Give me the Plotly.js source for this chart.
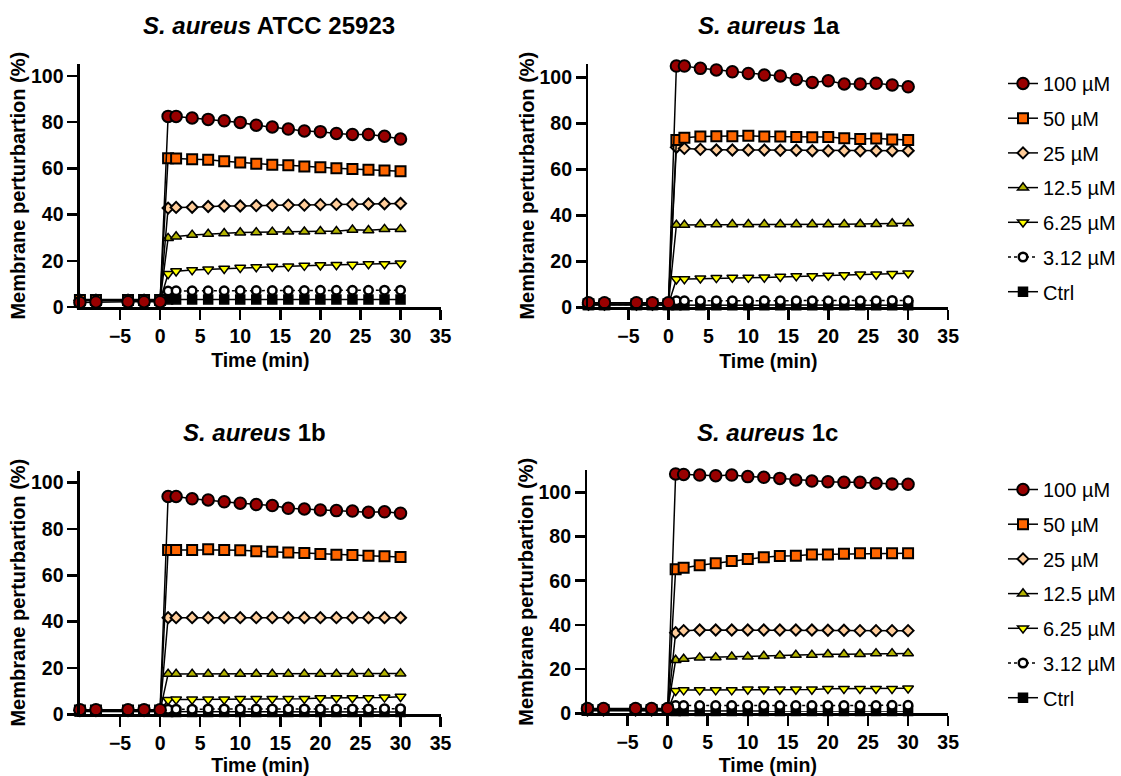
<!DOCTYPE html>
<html>
<head>
<meta charset="utf-8">
<script src="https://cdn.plot.ly/plotly-3.0.1.min.js"></script>
<style>html,body{margin:0;padding:0;background:#fff;}#chart{width:1121px;height:776px;}</style>
</head>
<body>
<div id="chart"></div>
<script>
// Time points (min)
const timeMin = [-10, -8, -4, -2, 0, 1, 2, 4, 6, 8, 10, 12, 14, 16, 18, 20, 22, 24, 26, 28, 30];
const xTickVals = [-5, 0, 5, 10, 15, 20, 25, 30, 35];
const yTickVals = [0, 20, 40, 60, 80, 100];

const seriesNames = ["100 \u00b5M", "50 \u00b5M", "25 \u00b5M", "12.5 \u00b5M", "6.25 \u00b5M", "3.12 \u00b5M", "Ctrl"];
const panelTitles = [
  "<b><i>S. aureus</i> ATCC 25923</b>",
  "<b><i>S. aureus</i> 1a</b>",
  "<b><i>S. aureus</i> 1b</b>",
  "<b><i>S. aureus</i> 1c</b>"
];

// Panel A: S. aureus ATCC 25923
const atcc_100 = [2.0, 2.2, 2.3, 2.3, 2.3, 82.5, 82.5, 81.8, 81.2, 80.6, 79.9, 78.7, 77.9, 77.0, 76.2, 75.9, 75.1, 74.7, 74.7, 73.9, 72.7];
const atcc_50  = [3.0, 3.0, 3.0, 3.0, 3.0, 64.4, 64.3, 64.0, 63.7, 63.1, 62.5, 62.0, 61.6, 61.3, 60.8, 60.5, 60.1, 59.7, 59.4, 59.1, 58.8];
const atcc_25  = [2.9, 2.9, 2.9, 2.9, 2.9, 42.8, 43.1, 43.2, 43.5, 43.7, 43.7, 43.9, 44.0, 44.1, 44.1, 44.3, 44.4, 44.4, 44.6, 44.7, 44.8];
const atcc_12  = [2.8, 2.8, 2.8, 2.8, 2.8, 29.8, 30.5, 31.2, 31.6, 31.9, 32.2, 32.3, 32.5, 32.6, 32.6, 32.8, 32.8, 33.4, 33.2, 33.7, 33.7];
const atcc_6   = [2.8, 2.8, 2.8, 2.8, 2.8, 14.3, 15.5, 16.0, 16.3, 16.6, 17.0, 17.3, 17.5, 17.6, 17.9, 18.1, 18.2, 18.3, 18.6, 18.6, 18.9];
const atcc_3   = [3.0, 3.0, 3.0, 3.0, 3.0, 6.9, 7.0, 7.0, 7.0, 7.0, 7.1, 7.1, 7.1, 7.1, 7.1, 7.2, 7.2, 7.2, 7.2, 7.3, 7.3];
const atcc_ctl = [3.2, 3.2, 3.2, 3.2, 3.2, 3.3, 3.3, 3.3, 3.3, 3.3, 3.3, 3.3, 3.3, 3.3, 3.3, 3.3, 3.3, 3.3, 3.3, 3.3, 3.3];

// Panel B: S. aureus 1a
const s1a_100 = [2.0, 2.0, 2.0, 2.0, 2.0, 104.9, 104.9, 103.9, 103.2, 102.4, 101.7, 101.0, 100.6, 99.1, 97.8, 98.5, 97.1, 97.1, 97.4, 96.7, 95.9];
const s1a_50  = [1.3, 1.3, 1.3, 1.3, 1.3, 72.7, 73.7, 74.3, 74.4, 74.4, 74.6, 74.3, 74.3, 74.1, 74.0, 74.1, 73.5, 73.2, 73.4, 73.0, 72.7];
const s1a_25  = [1.3, 1.3, 1.3, 1.3, 1.3, 69.6, 69.1, 68.7, 68.4, 68.4, 68.4, 68.4, 68.3, 68.3, 68.1, 68.1, 68.1, 68.1, 68.1, 68.1, 68.1];
const s1a_12  = [1.3, 1.3, 1.3, 1.3, 1.3, 35.8, 35.8, 36.1, 36.1, 36.1, 36.1, 36.1, 36.1, 36.1, 36.1, 36.1, 36.1, 36.2, 36.2, 36.4, 36.5];
const s1a_6   = [1.2, 1.2, 1.2, 1.2, 1.2, 12.2, 12.3, 12.6, 12.8, 12.9, 12.9, 13.0, 13.3, 13.6, 13.6, 13.8, 14.0, 14.3, 14.3, 14.5, 14.8];
const s1a_3   = [1.2, 1.2, 1.2, 1.2, 1.2, 2.8, 2.8, 2.9, 2.9, 2.9, 2.9, 2.9, 2.9, 2.9, 2.9, 2.9, 2.9, 2.9, 2.9, 3.0, 3.0];
const s1a_ctl = [1.0, 1.0, 1.0, 1.0, 1.0, 0.9, 0.9, 0.9, 0.9, 0.9, 0.9, 0.9, 0.9, 0.9, 0.9, 0.9, 0.9, 0.9, 0.9, 0.9, 0.9];

// Panel C: S. aureus 1b
const s1b_100 = [2.0, 2.0, 2.0, 2.0, 2.0, 94.0, 94.0, 93.0, 92.5, 91.7, 91.1, 90.5, 90.1, 88.9, 88.6, 88.2, 87.9, 87.7, 87.2, 87.4, 86.8];
const s1b_50  = [1.6, 1.6, 1.6, 1.6, 1.6, 70.9, 70.9, 70.9, 71.2, 70.9, 70.8, 70.4, 70.2, 69.8, 69.6, 69.2, 68.9, 68.7, 68.4, 68.2, 67.9];
const s1b_25  = [1.6, 1.6, 1.6, 1.6, 1.6, 41.7, 41.7, 41.7, 41.7, 41.7, 41.7, 41.7, 41.7, 41.7, 41.7, 41.7, 41.7, 41.7, 41.7, 41.7, 41.7];
const s1b_12  = [1.5, 1.5, 1.5, 1.5, 1.5, 17.4, 17.4, 17.4, 17.4, 17.4, 17.4, 17.4, 17.4, 17.4, 17.4, 17.4, 17.4, 17.5, 17.5, 17.5, 17.6];
const s1b_6   = [1.5, 1.5, 1.5, 1.5, 1.5, 6.2, 6.4, 6.4, 6.4, 6.4, 6.7, 6.7, 6.7, 6.7, 6.7, 7.0, 7.0, 7.0, 7.0, 7.3, 7.6];
const s1b_3   = [1.4, 1.4, 1.4, 1.4, 1.4, 2.2, 2.2, 2.2, 2.3, 2.3, 2.3, 2.3, 2.3, 2.3, 2.3, 2.3, 2.3, 2.3, 2.3, 2.4, 2.4];
const s1b_ctl = [1.2, 1.2, 1.2, 1.2, 1.2, 1.0, 1.0, 1.0, 1.0, 1.0, 1.0, 1.0, 1.0, 1.0, 1.0, 1.0, 1.0, 1.0, 1.0, 1.0, 1.0];

// Panel D: S. aureus 1c
const s1c_100 = [2.2, 2.2, 2.2, 2.2, 2.2, 108.3, 108.1, 107.8, 107.5, 107.8, 107.1, 106.8, 106.3, 105.6, 105.1, 104.8, 104.5, 104.5, 104.1, 103.8, 103.6];
const s1c_50  = [1.5, 1.5, 1.5, 1.5, 1.5, 65.2, 65.9, 67.0, 67.9, 68.9, 69.8, 70.6, 71.2, 71.3, 71.8, 71.9, 72.2, 72.4, 72.4, 72.4, 72.4];
const s1c_25  = [1.5, 1.5, 1.5, 1.5, 1.5, 36.5, 37.4, 37.7, 37.7, 37.7, 37.7, 37.7, 37.7, 37.7, 37.7, 37.6, 37.6, 37.4, 37.4, 37.4, 37.4];
const s1c_12  = [1.5, 1.5, 1.5, 1.5, 1.5, 24.1, 24.6, 25.2, 25.3, 25.6, 25.6, 25.9, 26.1, 26.4, 26.4, 26.7, 26.7, 26.8, 27.1, 27.1, 27.1];
const s1c_6   = [1.4, 1.4, 1.4, 1.4, 1.4, 10.2, 10.5, 10.5, 10.5, 10.5, 10.8, 10.8, 10.8, 10.8, 10.8, 11.1, 11.1, 11.1, 11.1, 11.1, 11.3];
const s1c_3   = [1.4, 1.4, 1.4, 1.4, 1.4, 3.5, 3.5, 3.5, 3.5, 3.5, 3.5, 3.5, 3.5, 3.5, 3.5, 3.5, 3.5, 3.5, 3.5, 3.6, 3.6];
const s1c_ctl = [1.2, 1.2, 1.2, 1.2, 1.2, 1.0, 1.0, 1.0, 1.0, 1.0, 1.0, 1.0, 1.0, 1.0, 1.0, 1.0, 1.0, 1.0, 1.0, 1.0, 1.0];

const panels = [
  [atcc_100, atcc_50, atcc_25, atcc_12, atcc_6, atcc_3, atcc_ctl],
  [s1a_100, s1a_50, s1a_25, s1a_12, s1a_6, s1a_3, s1a_ctl],
  [s1b_100, s1b_50, s1b_25, s1b_12, s1b_6, s1b_3, s1b_ctl],
  [s1c_100, s1c_50, s1c_25, s1c_12, s1c_6, s1c_3, s1c_ctl]
];

const FONT = "Liberation Sans, Arial, Helvetica, sans-serif";
const styles = [
  {symbol: "circle", size: 11.5, color: "#990000", lw: 2, dash: "solid"},
  {symbol: "square", size: 10, color: "#FF6600", lw: 2, dash: "solid"},
  {symbol: "diamond", size: 8.5, color: "#FFCC99", lw: 2, dash: "solid"},
  {symbol: "triangle-up", size: 9.5, color: "#B3B300", lw: 1.5, dash: "solid"},
  {symbol: "triangle-down", size: 9.5, color: "#FFFF00", lw: 1.5, dash: "solid"},
  {symbol: "circle", size: 8.5, color: "#FFFFFF", lw: 2.5, dash: "dot"},
  {symbol: "square", size: 9, color: "#000000", lw: 1.5, dash: "solid"}
];

const traces = [];
for (let p = 0; p < 4; p++) {
  const ax = p === 0 ? "" : String(p + 1);
  // draw Ctrl first so 100 µM ends on top
  for (let s = 6; s >= 0; s--) {
    const st = styles[s];
    const top = p < 2;
    traces.push({
      type: "scatter", mode: "lines+markers",
      x: timeMin, y: panels[p][s],
      xaxis: "x" + ax, yaxis: "y" + ax,
      name: seriesNames[s],
      cliponaxis: false,
      line: {color: "#000000", width: 1.5, dash: st.dash},
      marker: {symbol: st.symbol, size: st.size, color: st.color,
               line: {color: "#000000", width: st.lw}},
      showlegend: (p === 1 || p === 3),
      legend: top ? "legend" : "legend2",
      legendgroup: (top ? "t" : "b") + s,
      legendrank: s + 1,
      hoverinfo: "x+y+name"
    });
  }
}

function xAxis(domain, anchor) {
  return {
    domain: domain, anchor: anchor, range: [-10, 35],
    tickvals: xTickVals, ticks: "outside", ticklen: 10, tickwidth: 2.5, tickcolor: "#000",
    showline: true, linewidth: 2.5, linecolor: "#000", showgrid: false, zeroline: false,
    tickfont: {family: FONT, size: 19.5, color: "#000", weight: "bold"},
    title: {text: "<b>Time (min)</b>", font: {family: FONT, size: 19.5, color: "#000"}, standoff: 8}
  };
}
function yAxis(domain, anchor, range) {
  return {
    domain: domain, anchor: anchor, range: range,
    tickvals: yTickVals, ticks: "outside", ticklen: 10, tickwidth: 2.5, tickcolor: "#000",
    showline: true, linewidth: 2.5, linecolor: "#000", showgrid: false, zeroline: false,
    tickfont: {family: FONT, size: 19.5, color: "#000", weight: "bold"},
    title: {text: "<b>Membrane perturbartion (%)</b>", font: {family: FONT, size: 20, color: "#000"}, standoff: 0}
  };
}

const W = 1121, H = 776;
const px = v => v / W, py = v => 1 - v / H;

const legendCommon = {
  font: {family: FONT, size: 20, color: "#000"},
  traceorder: "grouped", tracegroupgap: 5.7,
  bgcolor: "rgba(0,0,0,0)", borderwidth: 0,
  xanchor: "left", yanchor: "top", itemwidth: 30
};

const layout = {
  width: W, height: H,
  margin: {l: 0, r: 0, t: 0, b: 0},
  paper_bgcolor: "#fff", plot_bgcolor: "#fff",
  font: {family: FONT, color: "#000"},
  xaxis:  xAxis([px(80), px(441)], "y"),
  yaxis:  yAxis([py(307), py(64.4)], "x", [0, 105]),
  xaxis2: xAxis([px(589), px(949)], "y2"),
  yaxis2: yAxis([py(307.3), py(64)], "x2", [0, 105.8]),
  xaxis3: xAxis([px(80), px(441)], "y3"),
  yaxis3: yAxis([py(714.3), py(471)], "x3", [0, 105]),
  xaxis4: xAxis([px(588), px(949)], "y4"),
  yaxis4: yAxis([py(713.3), py(470.2)], "x4", [0, 110]),
  legend:  Object.assign({}, legendCommon, {x: px(1004), y: py(64)}),
  legend2: Object.assign({}, legendCommon, {x: px(1004), y: py(470)}),
  annotations: [
    {text: panelTitles[0], x: px(269), y: py(26), xref: "paper", yref: "paper", showarrow: false, xanchor: "center", yanchor: "middle", font: {family: FONT, size: 24, color: "#000"}},
    {text: panelTitles[1], x: px(770), y: py(26), xref: "paper", yref: "paper", showarrow: false, xanchor: "center", yanchor: "middle", font: {family: FONT, size: 24, color: "#000"}},
    {text: panelTitles[2], x: px(255), y: py(432), xref: "paper", yref: "paper", showarrow: false, xanchor: "center", yanchor: "middle", font: {family: FONT, size: 24, color: "#000"}},
    {text: panelTitles[3], x: px(768), y: py(432), xref: "paper", yref: "paper", showarrow: false, xanchor: "center", yanchor: "middle", font: {family: FONT, size: 24, color: "#000"}}
  ],
  showlegend: true
};

Plotly.newPlot("chart", traces, layout, {displayModeBar: false, staticPlot: true});
</script>
</body>
</html>
